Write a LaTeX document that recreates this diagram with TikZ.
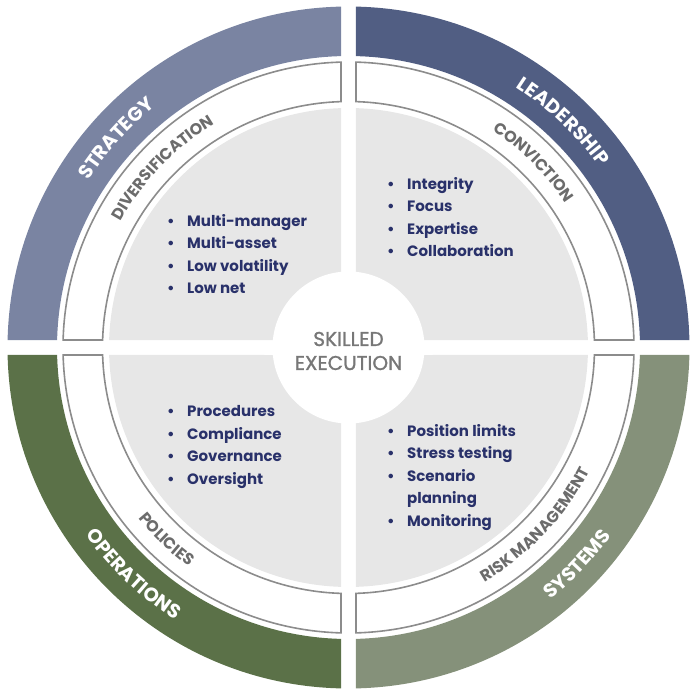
\documentclass[tikz,border=0pt]{standalone}
\usepackage{fontspec}
\setmainfont{Poppins}
\newfontfamily\corefont[FakeBold=1.2]{Poppins}
\usepackage{tikz}
\usetikzlibrary{decorations.text}

\definecolor{stratcol}{HTML}{7A84A2}
\definecolor{leadcol}{HTML}{515E83}
\definecolor{opscol}{HTML}{5B7148}
\definecolor{syscol}{HTML}{85917A}
\definecolor{listcol}{HTML}{29316A}
\definecolor{labelcol}{HTML}{6C6C6C}
\definecolor{corecol}{HTML}{777777}
\definecolor{coregray}{HTML}{E7E7E7}
\definecolor{ringline}{HTML}{8C8C8C}

\newcommand{\itm}{\makebox[0pt][r]{\textbullet\hspace{12.5pt}}}
% one quarter of a ring, cut by the white cross: options, start angle, inner r, outer r
\newcommand{\ringpiece}[4]{%
  \pgfmathsetmacro{\ai}{asin(7.5/#3)}%
  \pgfmathsetmacro{\ao}{asin(7.5/#4)}%
  \path[#1] (#2+\ao:#4pt) arc[start angle=#2+\ao, end angle=#2+90-\ao, radius=#4pt]
    -- (#2+90-\ai:#3pt) arc[start angle=#2+90-\ai, end angle=#2+\ai, radius=#3pt] -- cycle;}

\begin{document}
\begin{tikzpicture}[
	band label/.style={decoration={text along path, text align=center,
		text={|\fontsize{19.5}{19.5}\selectfont\bfseries\color{white}|#1}}, decorate},
	ring label/.style={decoration={text along path, text align=center,
		text={|\fontsize{16}{16}\selectfont\bfseries\color{labelcol}|#1}}, decorate},
	bullets/.style={anchor=base west, inner sep=0pt, align=left, text=listcol,
		font=\fontsize{15}{22.5}\selectfont\bfseries},]
\useasboundingbox (-348.5pt,-348.5pt) rectangle (349.5pt,347.5pt);

\foreach \a/\c in {0/leadcol,90/stratcol,180/opscol,270/syscol}{
	\ringpiece{fill=\c}{\a}{291.5}{341}
	\ringpiece{fill=white, draw=ringline, line width=1.6pt}{\a}{246}{285.5}
	\ringpiece{fill=coregray}{\a}{40}{239.5}
}

% outer band
\path[band label=STRATEGY] (178:309pt) arc[start angle=178, end angle=98, radius=309pt];
\path[band label=LEADERSHIP] (86.5:309pt) arc[start angle=86.5, end angle=6.5, radius=309pt];
\path[band label=OPERATIONS] (186.5:323pt) arc[start angle=186.5, end angle=266.5, radius=323pt];
\path[band label=SYSTEMS] (-83.5:323pt) arc[start angle=-83.5, end angle=-3.5, radius=323pt];

% inner ring
\path[ring label=DIVERSIFICATION] (176:260.5pt) arc[start angle=176, end angle=96, radius=260.5pt];
\path[ring label=CONVICTION] (85:260.5pt) arc[start angle=85, end angle=5, radius=260.5pt];
\path[ring label=POLICIES] (186.5:271pt) arc[start angle=186.5, end angle=266.5, radius=271pt];
\path[ring label=RISK MANAGEMENT] (-83.5:271pt) arc[start angle=-83.5, end angle=-3.5, radius=271pt];

\node (core) [circle, fill=white, minimum size=152pt, inner sep=0pt] at (0,0) {};
\node (coretext) [align=center, text=corecol, font=\corefont\fontsize{20}{24}\selectfont] at (0pt,-3.5pt) {SKILLED\\EXECUTION};

% base west of a list = baseline of its last line
\node (strat) [bullets] at (-161.5pt,54pt) {\itm Multi-manager\\\itm Multi-asset\\\itm Low volatility\\\itm Low net};
\node (lead) [bullets] at (58.5pt,90.5pt) {\itm Integrity\\\itm Focus\\\itm Expertise\\\itm Collaboration};
\node (ops) [bullets] at (-161.5pt,-136.5pt) {\itm Procedures\\\itm Compliance\\\itm Governance\\\itm Oversight};
\node (sys) [bullets] at (58.5pt,-178.5pt) {\itm Position limits\\\itm Stress testing\\\itm Scenario\\planning\\\itm Monitoring};
\end{tikzpicture}
\end{document}
